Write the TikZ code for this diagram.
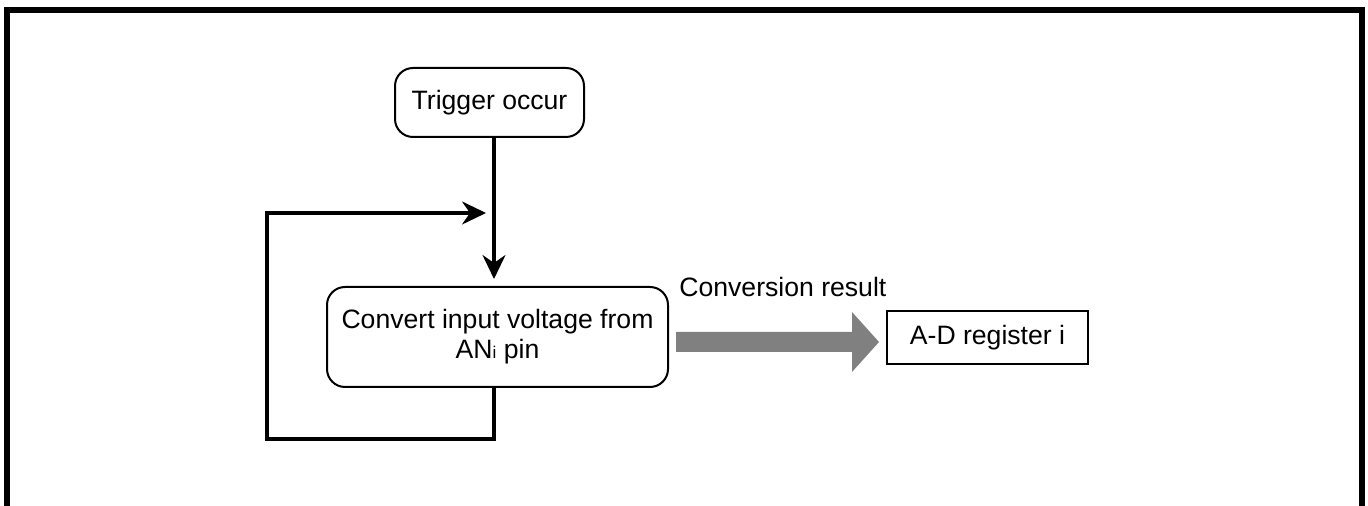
\documentclass[tikz,border=0pt]{standalone}
\usepackage{fontspec}
\setmainfont{Liberation Sans}
\usetikzlibrary{arrows.meta,positioning,calc}
\tikzset{
  rbox/.style = {draw=black, line width=1pt, rounded corners=9pt, align=center,
                 inner sep=0pt, font=\fontsize{13.3}{15}\selectfont, fill=white},
  sbox/.style = {draw=black, line width=1pt, align=center,
                 inner sep=0pt, font=\fontsize{13.3}{15}\selectfont, fill=white},
  lab/.style  = {font=\fontsize{13.3}{15}\selectfont, inner sep=0pt},
  arr/.style  = {-{Stealth[length=12pt,width=11.5pt,inset=4pt]}, draw=black, line width=1.6pt},
  bigarr/.style = {fill=black!50},
}

\begin{document}
\begin{tikzpicture}[x=0.5pt,y=-0.5pt]
  \useasboundingbox (0,0) rectangle (1368,506);
  % frame
  \draw[line width=2.75pt] (7,506) -- (7,9.8) -- (1362,9.8) -- (1362,506);
  \node[rbox, minimum width=94.5pt, minimum height=34.5pt] (trig) at (489.5,102.5) {Trigger occur};
  \node[rbox, minimum width=170.5pt, minimum height=50pt] (conv) at (497.5,337)
    {Convert input voltage from\\AN{\fontsize{8.5}{8.5}\selectfont i} pin};
  \node[sbox, minimum width=100.5pt, minimum height=26.5pt] (reg) at (987.5,337.5) {A-D register i};
  \node[lab, anchor=base west] (res) at (679,297) {Conversion result};
  \coordinate (join) at (494,213);
  \coordinate (corner) at (267,439);
  \draw[arr, shorten >=3.5pt] (trig.south -| join) -- (conv.north -| join);
  \draw[arr, shorten >=4pt] (conv.south -| join) |- (corner) |- (join);
  % result arrow
  \coordinate (gs) at ($(conv.east)+(7,5)$);
  \coordinate (ge) at ($(reg.west)+(-7,4.5)$);
  \fill[bigarr] ($(gs)+(0,-10)$) -- ($(ge)+(-27,-10)$) -- ($(ge)+(-27,-30)$) -- (ge)
    -- ($(ge)+(-27,30)$) -- ($(ge)+(-27,10)$) -- ($(gs)+(0,10)$) -- cycle;
\end{tikzpicture}
\end{document}
